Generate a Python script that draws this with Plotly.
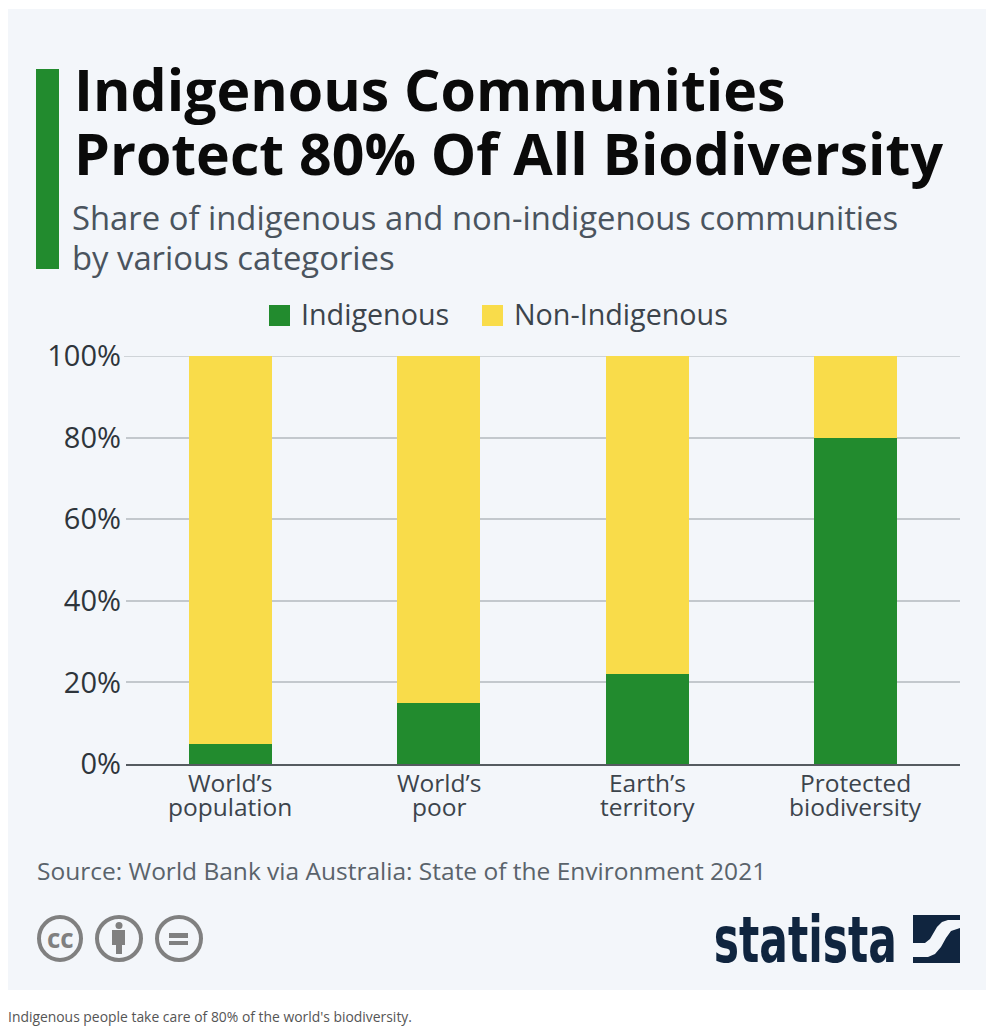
import plotly.graph_objects as go

W, H = 998, 1029
LEFT, RIGHT, TOP, BOTTOM = 126, 960, 356, 764

categories = ["World’s population", "World’s poor", "Earth’s territory", "Protected biodiversity"]
label_line1 = ["World’s", "World’s", "Earth’s", "Protected"]
label_line2 = ["population", "poor", "territory", "biodiversity"]
indigenous = [5, 15, 22, 80]
non_indigenous = [95, 85, 78, 20]
tick_vals = [0, 20, 40, 60, 80, 100]
tick_text = ["0%", "20%", "40%", "60%", "80%", "100%"]

GREEN = "#228b2e"
YELLOW = "#f9dc4a"
NAVY = "#10253f"
GREY = "#808080"
GRID = "#c3c8cd"
FONT = "Open Sans"


# paper coordinates are relative to the plot area, so convert from page pixels
def px(x):
    return (x - LEFT) / (RIGHT - LEFT)


def py(y):
    return (BOTTOM - y) / (BOTTOM - TOP)


def label(x, y, text, size, color, anchor="left", weight=400, family=FONT):
    return dict(x=px(x), y=py(y), xref="paper", yref="paper", text=text, showarrow=False,
                xanchor=anchor, yanchor="middle", align=anchor,
                font=dict(size=size, color=color, family=family, weight=weight))


def box(x0, y0, x1, y1, color, layer="above"):
    return dict(type="rect", xref="paper", yref="paper", x0=px(x0), x1=px(x1), y0=py(y0), y1=py(y1),
                fillcolor=color, line_width=0, layer=layer)


def ring(x0, y0, x1, y1):
    return dict(type="circle", xref="paper", yref="paper", x0=px(x0), x1=px(x1), y0=py(y0), y1=py(y1),
                line=dict(color=GREY, width=4), fillcolor="rgba(0,0,0,0)")


def path(points, color):
    d = "M" + " L".join(f"{px(x):.5f},{py(y):.5f}" for x, y in points) + " Z"
    return dict(type="path", xref="paper", yref="paper", path=d, fillcolor=color, line_width=0)


fig = go.Figure()
fig.add_bar(x=categories, y=indigenous, name="Indigenous", marker_color=GREEN, marker_line_width=0)
fig.add_bar(x=categories, y=non_indigenous, name="Non-Indigenous", marker_color=YELLOW, marker_line_width=0)

shapes = [
    box(8, 9, 986, 990, "#f3f6fa", layer="below"),
    # top gridline, plotly leaves it out at the edge of the range
    dict(type="line", xref="paper", yref="y", x0=px(124), x1=px(960), y0=100, y1=100,
         line=dict(color=GRID, width=1.5), layer="below"),
    box(36, 69, 59, 269, GREEN),
    box(269, 305, 290, 326, GREEN),
    box(482, 305, 503, 326, YELLOW),
    ring(39, 917, 81, 960),
    ring(97, 917, 141, 960),
    ring(157, 917, 201, 960),
    # equals sign
    box(169, 933, 188, 938, GREY),
    box(169, 941, 188, 945, GREY),
    # person
    dict(type="circle", xref="paper", yref="paper", x0=px(115.5), x1=px(122.5), y0=py(922), y1=py(929),
         fillcolor=GREY, line_width=0),
    path([(112, 930), (125, 930), (125, 945), (122, 945), (122, 954), (116, 954), (116, 945), (112, 945)], GREY),
    # statista mark
    path([(913, 915), (960, 915), (960, 920), (948, 920), (942, 922), (937, 927), (930, 939), (925, 943), (913, 943)], NAVY),
    path([(960, 928), (960, 963), (913, 963), (913, 957), (928, 957), (935, 954), (941, 947), (946, 938), (951, 931)], NAVY),
]

annotations = [
    label(71.5, 89, "Indigenous Communities", 57.2, "#0a0a0a", weight=700),
    label(71.5, 153, "Protect 80% Of All Biodiversity", 57.2, "#0a0a0a", weight=700),
    label(70, 217.5, "Share of indigenous and non-indigenous communities", 32.8, "#4a545e"),
    label(70, 257.5, "by various categories", 32.8, "#4a545e"),
    label(299, 313, "Indigenous", 28.7, "#3c444c"),
    label(512, 313, "Non-Indigenous", 28.7, "#3c444c"),
    label(35, 870, "Source: World Bank via Australia: State of the Environment 2021", 24.5, "#5a636b"),
    label(60, 938, "cc", 26, GREY, anchor="center", weight=700),
    label(805.5, 940, "statista", 64, NAVY, anchor="center", weight=700, family="DejaVu Sans Condensed"),
    label(6, 1016.5, "Indigenous people take care of 80% of the world's biodiversity.", 13.9, "#555555"),
]
# category labels sit tighter than plotly's tick line height, so one annotation per line
for cat, line1, line2 in zip(categories, label_line1, label_line2):
    for text, y in ((line1, 782), (line2, 806)):
        annotations.append(dict(x=cat, y=py(y), xref="x", yref="paper", text=text, showarrow=False,
                                xanchor="center", yanchor="middle",
                                font=dict(size=24.5, color="#3c444c", family=FONT)))

fig.update_layout(
    width=W, height=H,
    margin=dict(l=LEFT, r=W - RIGHT, t=TOP, b=H - BOTTOM, autoexpand=False),
    paper_bgcolor="white", plot_bgcolor="rgba(0,0,0,0)",
    barmode="stack", bargap=0.6, showlegend=False,
    shapes=shapes, annotations=annotations,
    font=dict(family=FONT),
)
fig.update_xaxes(showgrid=False, showline=True, linecolor="#555b60", linewidth=1.5, ticks="",
                 showticklabels=False)
fig.update_yaxes(range=[0, 100], tickvals=tick_vals, ticktext=tick_text, gridcolor=GRID, gridwidth=1.5,
                 zeroline=False, tickfont=dict(size=29, color="#2e353b"), ticks="", ticklabelstandoff=4)

# no narrow bold font is installed, so squeeze the logo word to its width
post = """
document.body.style.margin='0';document.body.style.overflow='hidden';
function squeeze(){document.querySelectorAll('.annotation-text').forEach(function(t){
if(t.textContent==='statista'){t.setAttribute('textLength','183');t.setAttribute('lengthAdjust','spacingAndGlyphs');}});}
squeeze();setTimeout(squeeze,50);
"""
fig.write_html("out.html", config={"displayModeBar": False}, post_script=post)
